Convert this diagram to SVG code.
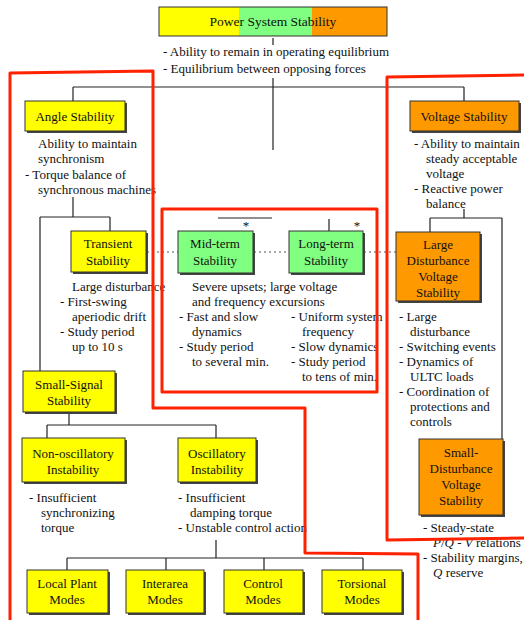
<svg xmlns="http://www.w3.org/2000/svg" width="524" height="620" viewBox="0 0 524 620">
<style>
text{font-family:"Liberation Serif","Times New Roman",serif;font-size:13px;fill:#111}
.c{text-anchor:middle}
.t{font-size:13.5px}
.box{stroke:#333;stroke-width:1}
.sh{fill:#444}
.y{fill:#ffff00}
.g{fill:#80ff80}
.o{fill:#ff9900}
.ln{stroke:#222;stroke-width:1.2;fill:none}
.dot{stroke:#555;stroke-width:1;stroke-dasharray:2 3;fill:none}
.red{stroke:#ff2200;stroke-width:3;fill:none;stroke-linejoin:round;stroke-linecap:round}
</style>
<rect width="524" height="620" fill="#fff"/>

<g id="connectors">
<path class="ln" d="M273 38V45M273 78V150M73 87H464M73 87V101M464 87V101"/>
<path class="ln" d="M73 197V217M40 217H110M110 217V231M40 217V371"/>
<path class="ln" d="M218 218H272M329 219V231"/>
<path class="ln" d="M464 209V218M430 218H502M430 218V232M502 218V439"/>
<path class="ln" d="M69 412V425M47 425H216M47 425V438M216 425V438"/>
<path class="ln" d="M216 540V558M67 558H363M67 558V570M166 558V570M264 558V570M363 558V570"/>
<path class="dot" d="M147 252H178M254 252H289M364 252H396"/>
</g>

<g id="n-root">
<rect x="159" y="7" width="80" height="29" class="y"/>
<rect x="239" y="7" width="73" height="29" class="g"/>
<rect x="312" y="7" width="75" height="29" class="o"/>
<rect x="159" y="7" width="228" height="29" fill="none" stroke="#333"/>
<text x="273" y="26" class="c t">Power System Stability</text>
<text x="163" y="56">-  Ability to remain in operating equilibrium</text>
<text x="163" y="73">-  Equilibrium between opposing forces</text>
</g>

<g id="n-angle">
<rect x="27" y="103" width="100" height="30" class="sh"/>
<rect x="25" y="101" width="100" height="30" class="box y"/>
<text x="75" y="121" class="c">Angle Stability</text>
<text x="38" y="148">Ability to maintain</text>
<text x="38" y="163">synchronism</text>
<text x="25" y="179">-  Torque balance of</text>
<text x="38" y="194">synchronous machines</text>
</g>

<g id="n-voltage">
<rect x="412" y="103" width="109" height="30" class="sh"/>
<rect x="410" y="101" width="109" height="30" class="box o"/>
<text x="464" y="121" class="c">Voltage Stability</text>
<text x="414" y="148">-  Ability to maintain</text>
<text x="426" y="163">steady acceptable</text>
<text x="426" y="178">voltage</text>
<text x="414" y="193">-  Reactive power</text>
<text x="426" y="208">balance</text>
</g>

<g id="n-transient">
<rect x="73" y="233" width="75" height="41" class="sh"/>
<rect x="71" y="231" width="75" height="41" class="box y"/>
<text x="108" y="248" class="c">Transient</text>
<text x="108" y="265" class="c">Stability</text>
<text x="72" y="291">Large disturbance</text>
<text x="60" y="306">-  First-swing</text>
<text x="72" y="321">aperiodic drift</text>
<text x="60" y="336">-  Study period</text>
<text x="72" y="351">up to 10 s</text>
</g>

<g id="n-midterm">
<rect x="180" y="233" width="75" height="42" class="sh"/>
<rect x="178" y="231" width="75" height="42" class="box g"/>
<text x="215" y="248" class="c">Mid-term</text>
<text x="215" y="265" class="c">Stability</text>
<text x="246" y="230" class="c" font-size="9">*</text>
</g>

<g id="n-longterm">
<rect x="291" y="233" width="74" height="42" class="sh"/>
<rect x="289" y="231" width="74" height="42" class="box g"/>
<text x="326" y="248" class="c">Long-term</text>
<text x="326" y="265" class="c">Stability</text>
<text x="357" y="230" class="c" font-size="9">*</text>
</g>

<g id="n-midlong-text">
<text x="192" y="291">Severe upsets; large voltage</text>
<text x="192" y="306">and frequency excursions</text>
<text x="179" y="321">-  Fast and slow</text>
<text x="192" y="336">dynamics</text>
<text x="179" y="351">-  Study period</text>
<text x="192" y="366">to several min.</text>
<text x="291" y="321">-  Uniform system</text>
<text x="302" y="336">frequency</text>
<text x="291" y="351">-  Slow dynamics</text>
<text x="291" y="366">-  Study period</text>
<text x="302" y="381">to tens of min.</text>
</g>

<g id="n-largedist">
<rect x="398" y="234" width="84" height="69" class="sh"/>
<rect x="396" y="232" width="84" height="69" class="box o"/>
<text x="438" y="249" class="c">Large</text>
<text x="438" y="265" class="c">Disturbance</text>
<text x="438" y="281" class="c">Voltage</text>
<text x="438" y="297" class="c">Stability</text>
<text x="399" y="321">-  Large</text>
<text x="410" y="336">disturbance</text>
<text x="399" y="351">-  Switching events</text>
<text x="399" y="366">-  Dynamics of</text>
<text x="410" y="381">ULTC loads</text>
<text x="399" y="396">-  Coordination of</text>
<text x="410" y="411">protections and</text>
<text x="410" y="426">controls</text>
</g>

<g id="n-smalldist">
<rect x="421" y="441" width="84" height="76" class="sh"/>
<rect x="419" y="439" width="84" height="76" class="box o"/>
<text x="461" y="457" class="c">Small-</text>
<text x="461" y="473" class="c">Disturbance</text>
<text x="461" y="489" class="c">Voltage</text>
<text x="461" y="505" class="c">Stability</text>
<text x="423" y="532">-  Steady-state</text>
<text x="433" y="547"><tspan font-style="italic">P</tspan>/<tspan font-style="italic">Q</tspan> - <tspan font-style="italic">V</tspan> relations</text>
<text x="423" y="562">-  Stability margins,</text>
<text x="433" y="577"><tspan font-style="italic">Q</tspan> reserve</text>
</g>

<g id="n-smallsignal">
<rect x="25" y="373" width="92" height="41" class="sh"/>
<rect x="23" y="371" width="92" height="41" class="box y"/>
<text x="69" y="389" class="c">Small-Signal</text>
<text x="69" y="405" class="c">Stability</text>
</g>

<g id="n-nonosc">
<rect x="24" y="440" width="103" height="44" class="sh"/>
<rect x="22" y="438" width="103" height="44" class="box y"/>
<text x="73" y="458" class="c">Non-oscillatory</text>
<text x="73" y="474" class="c">Instability</text>
<text x="29" y="502">-  Insufficient</text>
<text x="41" y="517">synchronizing</text>
<text x="41" y="532">torque</text>
</g>

<g id="n-osc">
<rect x="180" y="440" width="78" height="44" class="sh"/>
<rect x="178" y="438" width="78" height="44" class="box y"/>
<text x="217" y="458" class="c">Oscillatory</text>
<text x="217" y="474" class="c">Instability</text>
<text x="178" y="502">-  Insufficient</text>
<text x="190" y="517">damping torque</text>
<text x="178" y="532">-  Unstable control action</text>
</g>

<g id="n-local">
<rect x="29" y="572" width="81" height="43" class="sh"/>
<rect x="27" y="570" width="81" height="43" class="box y"/>
<text x="67" y="588" class="c">Local Plant</text>
<text x="67" y="604" class="c">Modes</text>
</g>
<g id="n-interarea">
<rect x="128" y="572" width="78" height="43" class="sh"/>
<rect x="126" y="570" width="78" height="43" class="box y"/>
<text x="165" y="588" class="c">Interarea</text>
<text x="165" y="604" class="c">Modes</text>
</g>
<g id="n-control">
<rect x="226" y="572" width="79" height="43" class="sh"/>
<rect x="224" y="570" width="79" height="43" class="box y"/>
<text x="263" y="588" class="c">Control</text>
<text x="263" y="604" class="c">Modes</text>
</g>
<g id="n-torsional">
<rect x="324" y="572" width="80" height="43" class="sh"/>
<rect x="322" y="570" width="80" height="43" class="box y"/>
<text x="362" y="588" class="c">Torsional</text>
<text x="362" y="604" class="c">Modes</text>
</g>

<g id="red-outlines">
<path class="red" d="M10 620V73L153 71V408H305V553L418 554V620"/>
<path class="red" d="M162 209H377V392H162Z"/>
<path class="red" d="M524 75L387 77V540L524 538"/>
</g>
</svg>
